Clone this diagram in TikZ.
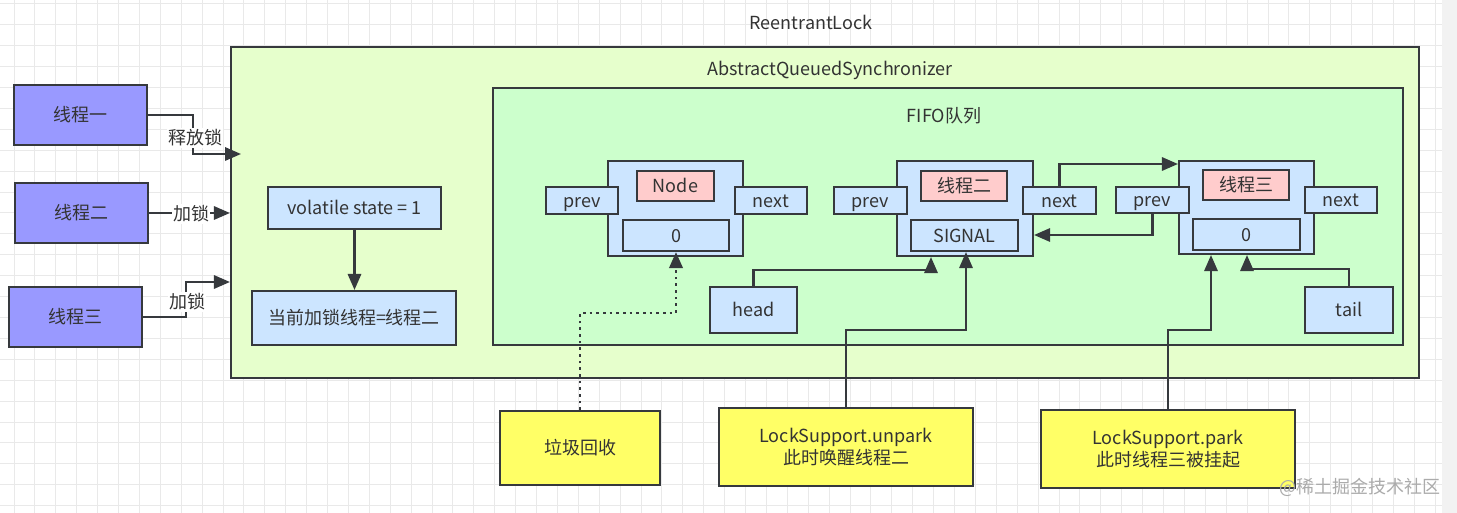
\documentclass[tikz,border=0pt]{standalone}
\usepackage{fontspec}
\setmainfont{Noto Sans CJK SC}
\usetikzlibrary{arrows.meta,calc}
\definecolor{bd}{HTML}{36393D}
\definecolor{txt}{HTML}{333333}
\definecolor{purp}{HTML}{9999FF}
\definecolor{aqsf}{HTML}{E6FFCC}
\definecolor{fifof}{HTML}{CCFFCC}
\definecolor{lblue}{HTML}{CCE5FF}
\definecolor{lred}{HTML}{FFCCCC}
\definecolor{yelf}{HTML}{FFFF66}
\definecolor{gridc}{HTML}{E9E9E9}
\definecolor{stripc}{HTML}{F2F2F2}
\definecolor{wmc}{HTML}{ABABAB}
\newcommand\pxbox[7]{\node[#2, minimum width={(#5-#3)*0.75pt}, minimum height={(#6-#4)*0.75pt}] (#1) at ({(#3+#5)/2},{(#4+#6)/2}) {#7};}
\tikzset{
  bx/.style={draw=bd, line width=1.6pt, inner sep=0pt, text=txt, align=center},
  one/.style={text height=12pt, text depth=2pt},
  thr/.style={bx, one, fill=purp},
  blu/.style={bx, one, fill=lblue},
  redb/.style={bx, one, fill=lred},
  yel/.style={bx, fill=yelf},
  aqsbox/.style={bx, fill=aqsf},
  fifobox/.style={bx, fill=fifof},
  arr/.style={draw=bd, line width=1.6pt, -{Triangle[length=12pt,width=10pt]}},
  lbl/.style={fill=white, inner sep=1pt, text=txt},
  ttl/.style={text=txt, inner sep=0pt},
}
\begin{document}
\begin{tikzpicture}[x=0.75pt,y=-0.75pt, font=\fontsize{13.5}{16.5}\selectfont]
% background
\path[fill=white] (0,0) rectangle (1457,513);
\useasboundingbox (0,0) rectangle (1457,513);
\foreach \i in {0,...,68} {\draw[gridc, line width=0.75pt] ({14+\i*20.9},0) -- ({14+\i*20.9},513);}
\foreach \j in {0,...,24} {\draw[gridc, line width=0.75pt] (0,{4+\j*20.9}) -- (1442,{4+\j*20.9});}
\path[fill=stripc] (1442,0) rectangle (1457,513);

% titles and containers
\node[ttl] (rl) at (811,22) {ReentrantLock};
\pxbox{aqs}{aqsbox}{231}{47}{1419}{378}{}
\node[ttl] (aqst) at (830,70) {AbstractQueuedSynchronizer};
\pxbox{fifo}{fifobox}{493}{88}{1403}{345}{}
\node[ttl] (fifot) at (944,116) {FIFO队列};

% threads
\pxbox{t1}{thr}{14}{85}{147}{145}{线程一}
\pxbox{t2}{thr}{15}{183}{148}{243}{线程二}
\pxbox{t3}{thr}{9}{287}{142}{347}{线程三}

\draw[arr] (t1.east) -| (193,154) -- (241,154);
\node[lbl] (l1) at (195,138) {释放锁};
\draw[arr] (t2.east) -- (t2.east -| aqs.west);
\node[lbl] (l2) at (191,214) {加锁};
\draw[arr] (t3.east) -| (186,282) -- (aqs.west |- 0,282);
\node[lbl] (l3) at (187,302) {加锁};

% state
\pxbox{vs}{blu}{268}{187}{441}{229}{volatile state = 1}
\pxbox{cur}{blu}{252}{291}{456}{345}{当前加锁线程=线程二}
\draw[arr] (vs.south) -- (vs.south |- cur.north);

% node 1
\pxbox{n1}{blu}{608}{161}{743}{256}{}
\pxbox{n1t}{redb}{637}{171}{714}{201}{Node}
\pxbox{n1v}{blu}{623}{220}{729}{251}{0}
\pxbox{n1p}{blu}{546}{187}{618}{214}{prev}
\pxbox{n1n}{blu}{735}{187}{807}{214}{next}

% node 2
\pxbox{n2}{blu}{897}{161}{1033}{256}{}
\pxbox{n2t}{redb}{921}{171}{1007}{201}{线程二}
\pxbox{n2v}{blu}{911}{220}{1018}{251}{SIGNAL}
\pxbox{n2p}{blu}{834}{187}{907}{214}{prev}
\pxbox{n2n}{blu}{1023}{187}{1096}{214}{next}

% node 3
\pxbox{n3}{blu}{1179}{161}{1314}{254}{}
\pxbox{n3t}{redb}{1203}{170}{1289}{200}{线程三}
\pxbox{n3v}{blu}{1193}{219}{1300}{250}{0}
\pxbox{n3p}{blu}{1116}{187}{1189}{213}{prev}
\pxbox{n3n}{blu}{1305}{187}{1377}{213}{next}

% head / tail
\pxbox{head}{blu}{710}{287}{797}{333}{head}
\pxbox{tail}{blu}{1305}{287}{1393}{333}{tail}

% yellow notes
\pxbox{gc}{yel,one}{500}{411}{660}{485}{垃圾回收}
\pxbox{up}{yel}{719}{408}{973}{486}{LockSupport.unpark\\此时唤醒线程二}
\pxbox{pk}{yel}{1041}{410}{1295}{488}{LockSupport.park\\此时线程三被挂起}

% links
\draw[arr] (n2n.north) |- (n3.west |- 0,164);
\draw[arr] (n3p.south) |- (n2.east |- 0,235);
\draw[arr] (head.north) |- (931,270) -- (931,270 |- n2.south);
\draw[arr] (up.north) |- (966,330) -- (966,330 |- n2v.south);
\draw[arr] (tail.north) |- (1247,269) -- (1247,269 |- n3.south);
\draw[arr] (pk.north) |- (1211,330) -- (1211,330 |- n3.south);
\draw[arr, line width=2pt, dash pattern=on 2pt off 3pt] (gc.north) |- (676,313) -- (676,313 |- n1v.south);

% watermark
\node[text=wmc, inner sep=0pt] (wmk) at (1360,487) {@稀土掘金技术社区};
\end{tikzpicture}
\end{document}
